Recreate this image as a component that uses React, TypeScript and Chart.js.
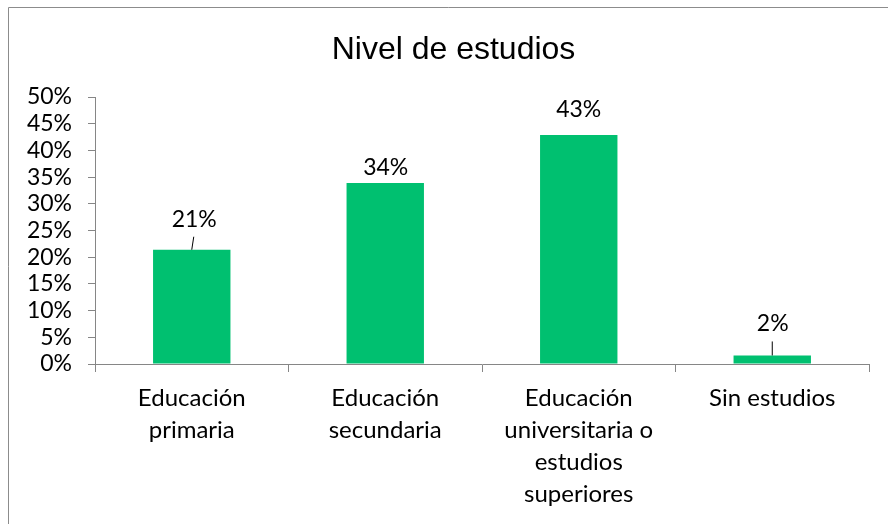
import React, { useEffect, useRef } from "react";
import { Chart, registerables } from "chart.js";

Chart.register(...registerables);

const chartTitle = "Nivel de estudios";
const categories: string[][] = [
  ["Educación", "primaria"],
  ["Educación", "secundaria"],
  ["Educación", "universitaria o", "estudios", "superiores"],
  ["Sin estudios"],
];
const values: number[] = [21.4, 33.9, 42.9, 1.6];
const yMin = 0;
const yMax = 50;
const yStep = 5;

// Excel-style moved data labels: baseline distance above bar top, x shift, leader line
const labelBaselineOffset = [23, 8, 18, 24];
const labelShiftX = [2.5, 0.5, 0, 0.5];
const labelLeader = [true, false, false, true];

const GREEN = "#00C070";
const AXIS = "#868686";

const borderAndTitlePlugin = {
  id: "outerBorderTitle",
  beforeDraw(chart: any) {
    const ctx = chart.ctx;
    ctx.save();
    ctx.fillStyle = "#ffffff";
    ctx.fillRect(0, 0, chart.width, chart.height);
    ctx.strokeStyle = "#8c8c8c";
    ctx.lineWidth = 1;
    ctx.beginPath();
    ctx.moveTo(8.5, chart.height + 5);
    ctx.lineTo(8.5, 7.5);
    ctx.lineTo(chart.width + 5, 7.5);
    ctx.stroke();
    ctx.font = "32px 'Liberation Sans'";
    ctx.fillStyle = "#000000";
    ctx.textAlign = "center";
    ctx.textBaseline = "alphabetic";
    ctx.fillText(chartTitle, 453.5, 59);
    ctx.restore();
  },
};

const dataLabelPlugin = {
  id: "dataLabels",
  afterDatasetsDraw(chart: any) {
    const ctx = chart.ctx;
    const meta = chart.getDatasetMeta(0);
    ctx.save();
    ctx.font = "23px Lato";
    ctx.fillStyle = "#000000";
    ctx.textAlign = "center";
    ctx.textBaseline = "alphabetic";
    meta.data.forEach((bar: any, i: number) => {
      const v = values[i];
      const x = bar.x + labelShiftX[i];
      const baseY = bar.y - labelBaselineOffset[i];
      ctx.fillText(Math.round(v) + "%", x, baseY);
      if (labelLeader[i]) {
        ctx.strokeStyle = "#000000";
        ctx.lineWidth = 1;
        ctx.beginPath();
        ctx.moveTo(x - 0.5, baseY + 10);
        ctx.lineTo(bar.x, bar.y);
        ctx.stroke();
      }
    });
    ctx.restore();
  },
};

export default function App() {
  const ref = useRef<HTMLCanvasElement | null>(null);

  useEffect(() => {
    if (!ref.current) return;
    const chart = new Chart(ref.current, {
      type: "bar",
      data: {
        labels: categories,
        datasets: [
          {
            data: values,
            backgroundColor: GREEN,
            borderWidth: 0,
            barPercentage: 0.4,
            categoryPercentage: 1,
          },
        ],
      },
      options: {
        animation: false,
        responsive: true,
        maintainAspectRatio: false,
        layout: { padding: { left: 0, right: 19, top: 97, bottom: 0 } },
        plugins: {
          legend: { display: false },
          tooltip: { enabled: false },
          title: { display: false },
        },
        scales: {
          x: {
            grid: {
              display: true,
              drawOnChartArea: false,
              drawTicks: true,
              tickLength: 8,
              color: AXIS,
              offset: true,
            },
            border: { display: true, color: AXIS, width: 1 },
            ticks: {
              color: "#000000",
              padding: 10,
              maxRotation: 0,
              autoSkip: false,
              font: { family: "Lato", size: 24, lineHeight: "32px" },
            },
            afterFit: (scale: any) => {
              scale.height = 160;
            },
          },
          y: {
            min: yMin,
            max: yMax,
            grid: {
              display: true,
              drawOnChartArea: false,
              drawTicks: true,
              tickLength: 7,
              color: AXIS,
            },
            border: { display: true, color: AXIS, width: 1 },
            ticks: {
              stepSize: yStep,
              autoSkip: false,
              color: "#000000",
              padding: 16,
              font: { family: "Lato", size: 23 },
              callback: (v: any) => v + "%",
            },
            afterFit: (scale: any) => {
              scale.width = 95;
            },
          },
        },
      },
      plugins: [borderAndTitlePlugin, dataLabelPlugin],
    });
    return () => chart.destroy();
  }, []);

  return (
    <div style={{ position: "fixed", left: 0, top: 0, width: 888, height: 524 }}>
      <canvas ref={ref} />
    </div>
  );
}
